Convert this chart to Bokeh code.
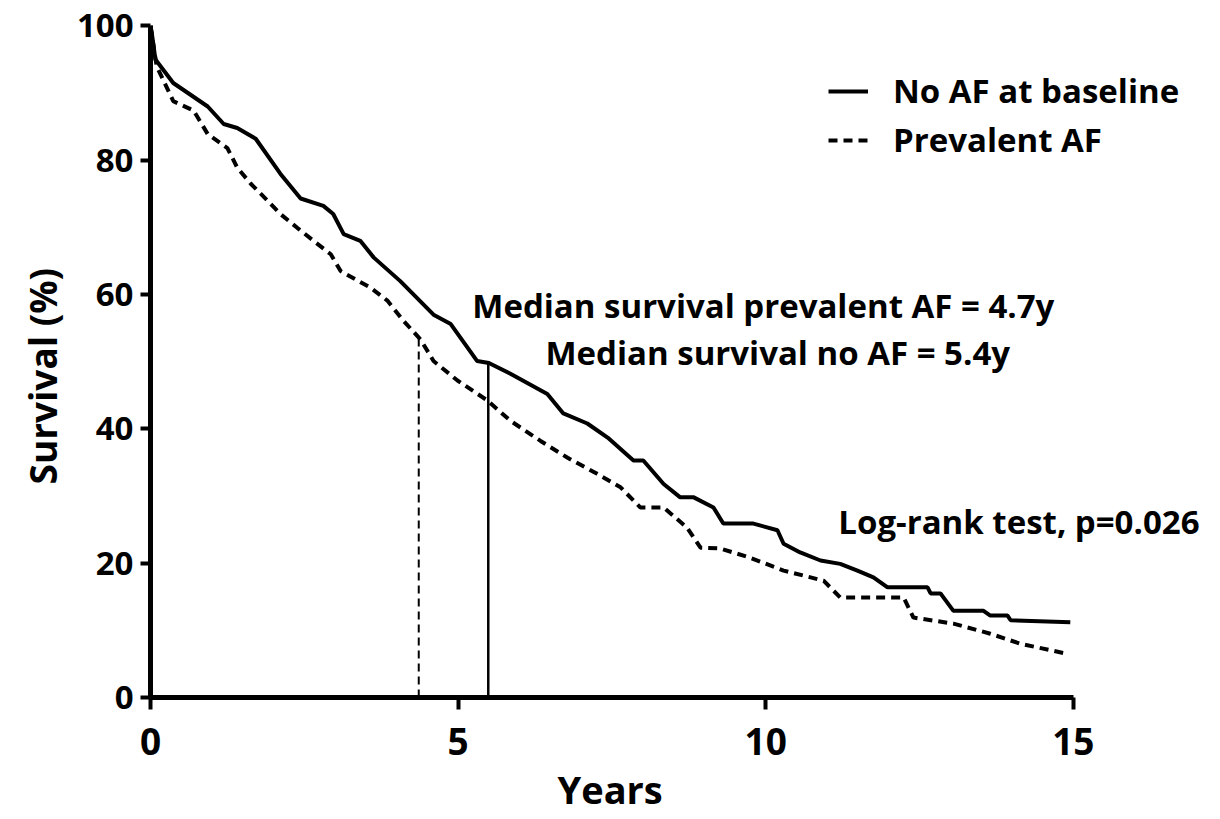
from bokeh.plotting import figure
from bokeh.models import Range1d, Legend, LegendItem, Label, FixedTicker, Title
from bokeh.embed import file_html
from bokeh.resources import INLINE

# ---- data ----
no_af_t = [0, 0.02, 0.08, 0.37, 0.93, 1.19, 1.41, 1.71, 2.11, 2.44, 2.81, 2.97, 3.14, 3.41, 3.63,
           4.06, 4.6, 4.88, 5.31, 5.5, 5.85, 6.45, 6.71, 7.1, 7.43, 7.85, 8.01, 8.34, 8.61, 8.83,
           9.15, 9.31, 9.8, 10.19, 10.29, 10.56, 10.89, 11.21, 11.49, 11.75, 11.98, 12.63, 12.68,
           12.84, 13.05, 13.54, 13.65, 13.93, 13.98, 14.95]
no_af_s = [100, 99, 95, 91.5, 88, 85.4, 84.8, 83.2, 78, 74.3, 73.2, 72, 69, 68, 65.5,
           62, 57, 55.6, 50.1, 49.8, 48.2, 45.2, 42.3, 40.8, 38.7, 35.3, 35.3, 31.8, 29.8, 29.8,
           28.3, 25.9, 25.9, 24.9, 22.9, 21.6, 20.4, 19.9, 18.9, 17.9, 16.4, 16.4, 15.5,
           15.5, 12.9, 12.9, 12.2, 12.2, 11.5, 11.2]

prev_af_t = [0, 0.1, 0.37, 0.7, 0.93, 1.25, 1.41, 1.63, 1.9, 2.11, 2.39, 2.65, 2.93, 3.09, 3.58,
             3.85, 4.11, 4.39, 4.6, 4.99, 5.48, 5.85, 6.34, 6.78, 7.26, 7.64, 7.96, 8.34, 8.72,
             8.94, 9.26, 9.75, 10.29, 10.94, 11.21, 12.24, 12.4, 13.05, 13.65, 14.14, 14.9]
prev_af_s = [100, 94, 88.8, 87.4, 83.9, 81.8, 78.9, 76.5, 74, 72, 69.9, 68, 66, 63.5, 61,
             59.1, 56.1, 53.3, 50.1, 47.2, 44.2, 41.2, 38.2, 35.7, 33.3, 31.3, 28.3, 28.3, 25.3,
             22.3, 22.2, 20.8, 18.9, 17.4, 14.9, 14.9, 11.9, 11, 9.5, 8, 6.5]

median_t = [4.36, 5.49]
median_s = [53.4, 49.8]

x_ticks = [0, 5, 10, 15]
y_ticks = [0, 20, 40, 60, 80, 100]

series_labels = ["No AF at baseline", "Prevalent AF"]
annotations = ["Median survival prevalent AF = 4.7y", "Median survival no AF = 5.4y",
               "Log-rank test, p=0.026"]
x_title = "Years"
y_title = "Survival (%)"

TXT = "'Open Sans', sans-serif"

p = figure(width=1220, height=819, output_backend="svg", toolbar_location=None,
           x_range=Range1d(0, 17.31), y_range=Range1d(0, 102),
           min_border_left=150, min_border_right=5, min_border_top=12, min_border_bottom=122)
p.outline_line_color = None
p.xgrid.visible = False
p.ygrid.visible = False
p.background_fill_color = "white"

r1 = p.line(no_af_t, no_af_s, line_color="black", line_width=4)
r2 = p.line(prev_af_t, prev_af_s, line_color="black", line_width=4, line_dash="9 6")

p.segment(x0=[median_t[0]], y0=[0], x1=[median_t[0]], y1=[median_s[0]],
          line_color="black", line_width=2, line_dash="8 5")
p.segment(x0=[median_t[1]], y0=[0], x1=[median_t[1]], y1=[median_s[1]],
          line_color="black", line_width=2.5)

# axes
xa = p.xaxis[0]
xa.bounds = (0, 15)
xa.ticker = FixedTicker(ticks=x_ticks)
xa.axis_line_width = 5
xa.axis_line_color = "black"
xa.major_tick_line_width = 4
xa.major_tick_line_color = "black"
xa.major_tick_out = 12
xa.major_tick_in = 0
xa.minor_tick_line_color = None
xa.major_label_text_font = TXT
xa.major_label_text_font_style = "bold"
xa.major_label_text_font_size = "37px"
xa.major_label_text_color = "black"
xa.major_label_standoff = 18

ya = p.yaxis[0]
ya.bounds = (0, 100)
ya.ticker = FixedTicker(ticks=y_ticks)
ya.axis_line_width = 5
ya.axis_line_color = "black"
ya.major_tick_line_width = 4
ya.major_tick_line_color = "black"
ya.major_tick_out = 10
ya.major_tick_in = 0
ya.minor_tick_line_color = None
ya.major_label_text_font = TXT
ya.major_label_text_font_style = "bold"
ya.major_label_text_font_size = "33px"
ya.major_label_text_color = "black"
ya.major_label_standoff = 7

# axis titles as side titles (offset to match the reference)
p.add_layout(Title(text=x_title, align="left", offset=407, standoff=6,
                   text_font=TXT, text_font_style="bold", text_font_size="38px",
                   text_color="black"), "below")
p.add_layout(Title(text=y_title, align="left", offset=213, standoff=12,
                   text_font=TXT, text_font_style="bold", text_font_size="37px",
                   text_color="black"), "left")

# annotations
ann_pos = [(5.23, 58.3), (6.42, 51.4), (11.18, 26.2)]
for txt, (ax, ay) in zip(annotations, ann_pos):
    p.add_layout(Label(x=ax, y=ay, text=txt, text_font=TXT, text_font_style="bold",
                       text_font_size="33px", text_baseline="middle", text_align="left",
                       text_color="black"))

legend = Legend(items=[LegendItem(label=series_labels[0], renderers=[r1]),
                       LegendItem(label=series_labels[1], renderers=[r2])],
                location=(678, 535), padding=0, margin=0, spacing=4,
                glyph_width=40, glyph_height=36, label_height=36, label_standoff=25,
                label_text_font=TXT, label_text_font_style="bold",
                label_text_font_size="33px", label_text_color="black",
                border_line_color=None, background_fill_alpha=0)
p.add_layout(legend)

open("out.html", "w").write(file_html(p, INLINE))
